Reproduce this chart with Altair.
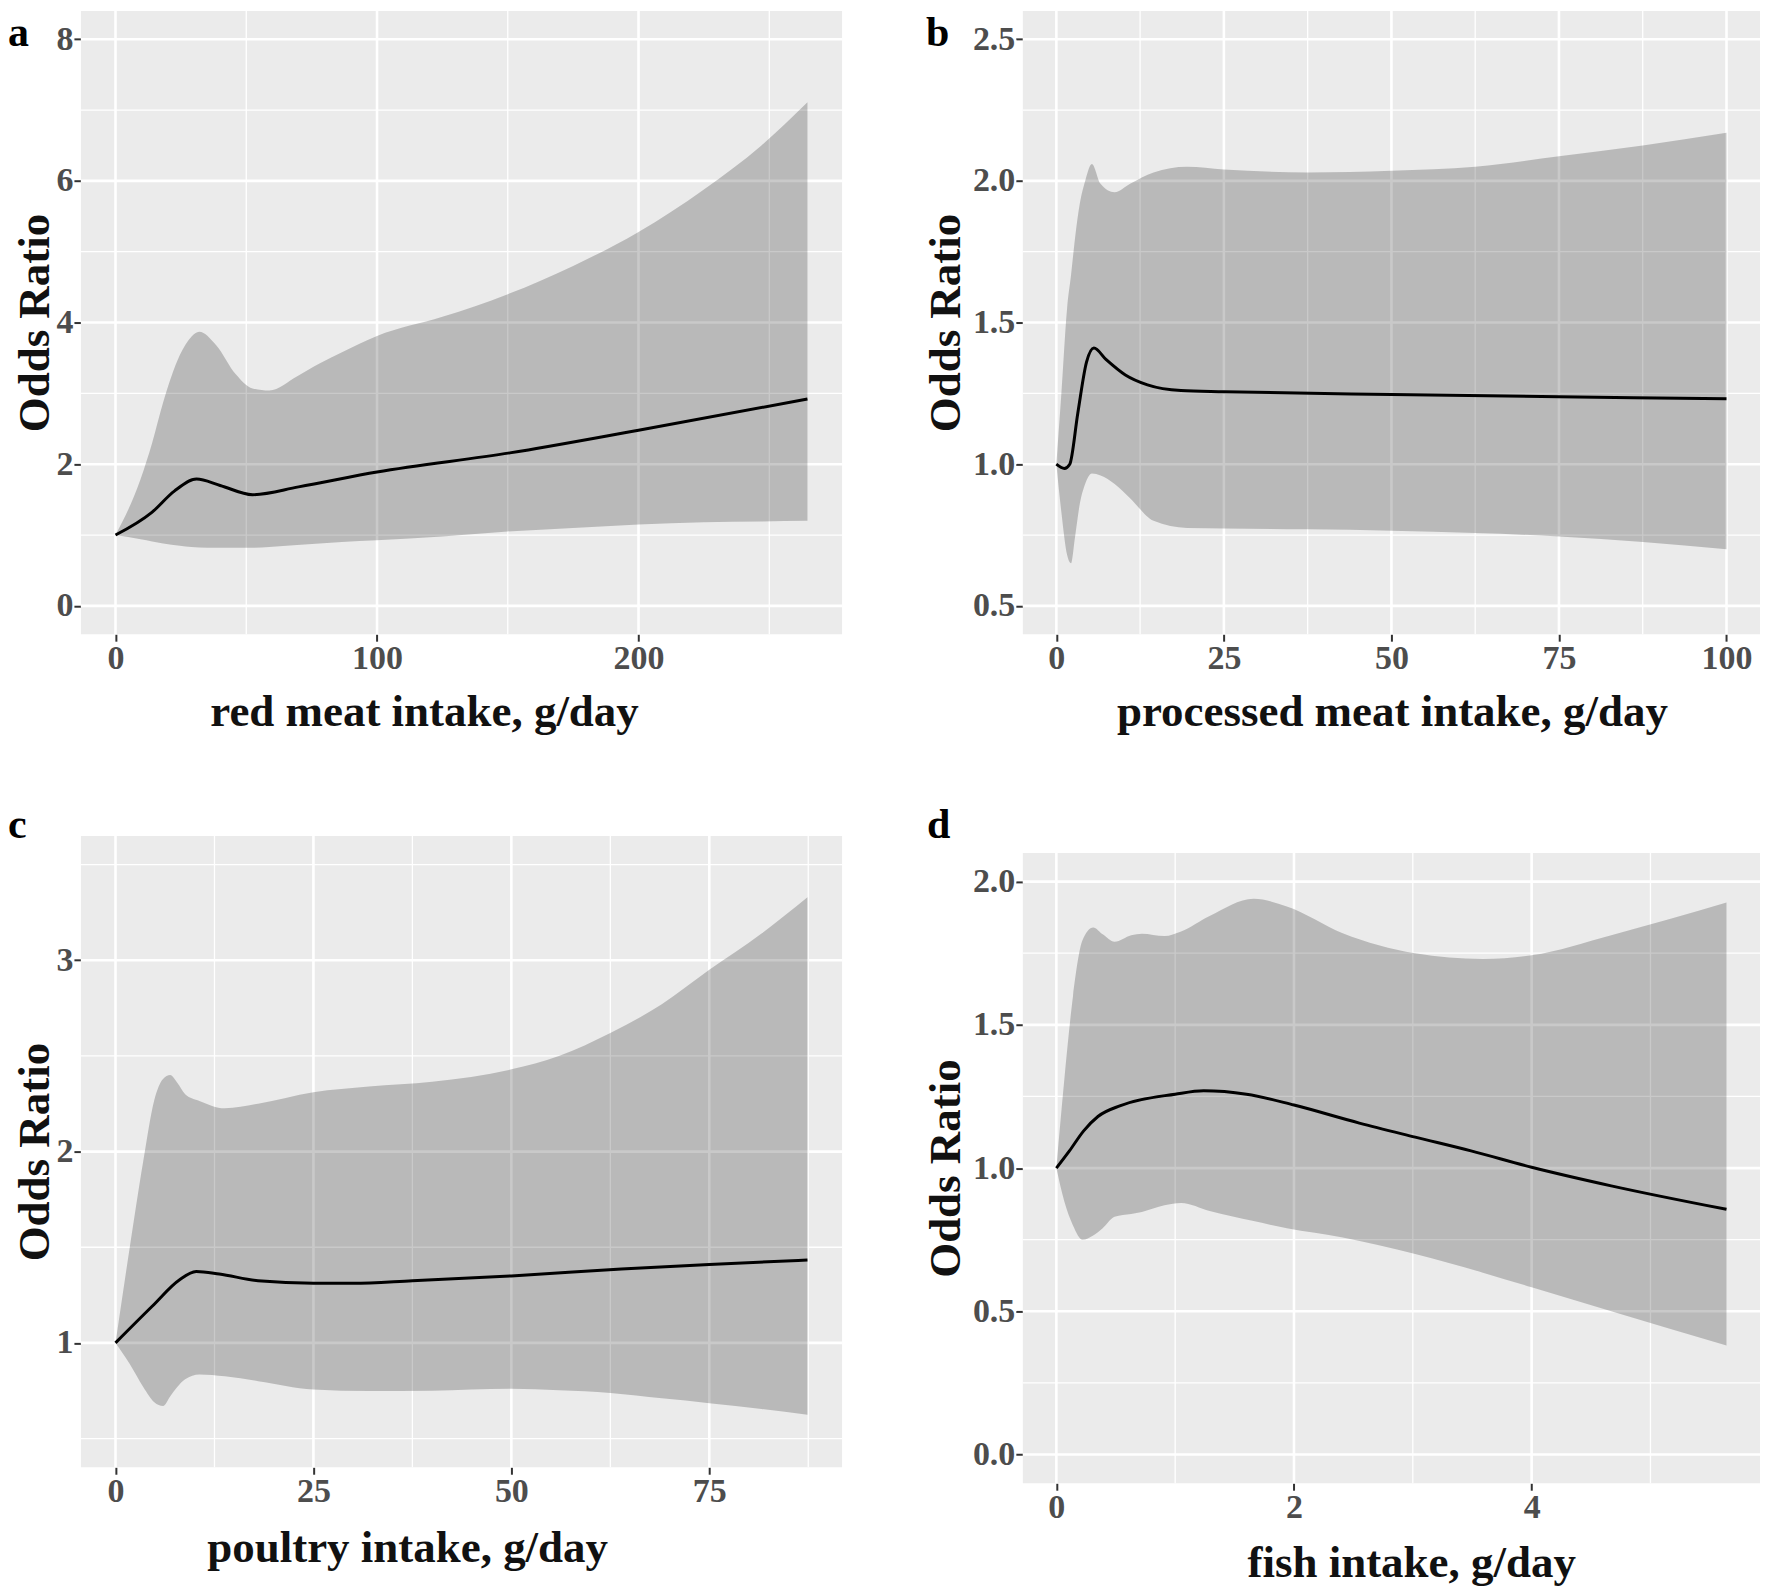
import altair as alt
import pandas as pd

FONT = "Liberation Serif"

# ---------------- panel a : red meat ----------------
A_LINE_X = [0, 13.9, 22.5, 31, 40, 52.4, 70, 100, 150.8, 200, 264.6]
A_LINE_Y = [1.0, 1.32, 1.62, 1.79, 1.70, 1.57, 1.68, 1.89, 2.16, 2.48, 2.92]
A_BAND_X = [0, 9.6, 14, 18.2, 24.6, 29, 32, 38.5, 46, 52.4, 58.8, 69.5, 78, 86.6, 100, 125, 150, 175, 200, 225, 247, 264.6]
A_BAND_HI = [1.0, 1.79, 2.3, 2.87, 3.54, 3.8, 3.87, 3.68, 3.27, 3.07, 3.04, 3.24, 3.42, 3.58, 3.81, 4.08, 4.40, 4.80, 5.28, 5.88, 6.50, 7.11]
A_BAND_LO = [1.0, 0.94, 0.91, 0.88, 0.85, 0.83, 0.825, 0.82, 0.82, 0.82, 0.83, 0.86, 0.88, 0.90, 0.925, 0.98, 1.05, 1.10, 1.15, 1.18, 1.19, 1.20]

# ---------------- panel b : processed meat ----------------
B_LINE_X = [0, 1.2, 2.0, 3.2, 4.5, 5.6, 7.4, 10.3, 13.6, 18.6, 25, 50, 75, 100]
B_LINE_Y = [1.0, 0.985, 1.0, 1.18, 1.36, 1.41, 1.37, 1.315, 1.28, 1.26, 1.256, 1.246, 1.238, 1.231]
B_BAND_X = [0, 0.75, 1.6, 2.2, 2.8, 3.5, 4.3, 5.3, 6.6, 8.7, 11, 14.5, 19.5, 25, 37.5, 50, 62.5, 75, 87.5, 100]
B_BAND_HI = [1.0, 1.25, 1.55, 1.67, 1.80, 1.92, 2.0, 2.06, 1.99, 1.96, 1.99, 2.03, 2.05, 2.04, 2.03, 2.036, 2.05, 2.087, 2.125, 2.17]
B_BAND_LO = [1.0, 0.83, 0.68, 0.65, 0.745, 0.86, 0.93, 0.967, 0.96, 0.93, 0.88, 0.80, 0.775, 0.773, 0.77, 0.765, 0.757, 0.745, 0.725, 0.70]

# ---------------- panel c : poultry ----------------
C_LINE_X = [0, 4.6, 8.1, 10.2, 13.1, 18, 25, 30, 37.5, 50, 63.9, 75, 87.4]
C_LINE_Y = [1.0, 1.19, 1.33, 1.373, 1.36, 1.325, 1.312, 1.312, 1.325, 1.35, 1.386, 1.41, 1.433]
C_BAND_X = [0, 1.8, 3.5, 4.9, 6.0, 6.9, 7.8, 8.8, 10.6, 13.8, 18, 25, 32, 40, 50, 56, 62.5, 69, 75, 81.6, 87.4]
C_BAND_HI = [1.0, 1.50, 1.95, 2.27, 2.38, 2.40, 2.36, 2.30, 2.265, 2.226, 2.25, 2.31, 2.34, 2.365, 2.43, 2.50, 2.62, 2.77, 2.95, 3.14, 3.33]
C_BAND_LO = [1.0, 0.89, 0.77, 0.69, 0.67, 0.72, 0.77, 0.81, 0.835, 0.825, 0.80, 0.756, 0.748, 0.75, 0.76, 0.752, 0.738, 0.71, 0.685, 0.655, 0.625]

# ---------------- panel d : fish ----------------
D_LINE_X = [0, 0.11, 0.23, 0.35, 0.54, 1.0, 1.24, 1.6, 2.0, 2.55, 3.02, 3.49, 4.0, 4.67, 5.64]
D_LINE_Y = [1.0, 1.06, 1.13, 1.18, 1.218, 1.258, 1.27, 1.258, 1.22, 1.157, 1.108, 1.06, 1.003, 0.938, 0.856]
D_BAND_X = [0, 0.066, 0.14, 0.22, 0.31, 0.39, 0.49, 0.63, 0.72, 0.91, 1.05, 1.29, 1.66, 1.94, 2.41, 3.02, 3.59, 4.0, 4.67, 5.64]
D_BAND_HI = [1.0, 1.305, 1.60, 1.795, 1.84, 1.816, 1.79, 1.813, 1.818, 1.81, 1.826, 1.88, 1.94, 1.913, 1.82, 1.75, 1.73, 1.743, 1.813, 1.927]
D_BAND_LO = [1.0, 0.885, 0.80, 0.75, 0.765, 0.79, 0.83, 0.84, 0.847, 0.87, 0.878, 0.85, 0.815, 0.79, 0.758, 0.70, 0.635, 0.584, 0.50, 0.381]

# axis ticks / grid values
A_XMAJ, A_XMIN, A_YMAJ, A_YMIN = [0, 100, 200], [50, 150, 250], [0, 2, 4, 6, 8], [1, 3, 5, 7]
B_XMAJ, B_XMIN, B_YMAJ, B_YMIN = [0, 25, 50, 75, 100], [12.5, 37.5, 62.5, 87.5], [0.5, 1.0, 1.5, 2.0, 2.5], [0.75, 1.25, 1.75, 2.25]
C_XMAJ, C_XMIN, C_YMAJ, C_YMIN = [0, 25, 50, 75], [12.5, 37.5, 62.5, 87.5], [1, 2, 3], [0.5, 1.5, 2.5, 3.5]
D_XMAJ, D_XMIN, D_YMAJ, D_YMIN = [0, 2, 4], [1, 3, 5], [0.0, 0.5, 1.0, 1.5, 2.0], [0.25, 0.75, 1.25, 1.75]

A_XDOM, A_YDOM = [-13.23, 277.83], [-0.4, 8.4]
B_XDOM, B_YDOM = [-5, 105], [0.4, 2.6]
C_XDOM, C_YDOM = [-4.37, 91.77], [0.35, 3.65]
D_XDOM, D_YDOM = [-0.282, 5.922], [-0.1, 2.1]

X_TITLES = ["red meat intake, g/day", "processed meat intake, g/day",
            "poultry intake, g/day", "fish intake, g/day"]
Y_TITLE = "Odds Ratio"
LETTERS = ["a", "b", "c", "d"]

PANEL_BG = "#EBEBEB"


def panel(lx, ly, bx, blo, bhi, xdom, ydom, xmaj, xmin, ymaj, ymin, xtitle, yfmt,
          w, h, top, title_x, ytitle_x, letter, let_x, let_y, xtitle_y=91):
    xs = alt.Scale(domain=xdom, nice=False, zero=False)
    ys = alt.Scale(domain=ydom, nice=False, zero=False, range=[h, top])

    common = dict(domain=False, grid=False, ticks=True, tickSize=7, tickWidth=2,
                  tickColor="#333333", labelFont=FONT, labelFontSize=34,
                  labelFontWeight="bold", labelColor="#4D4D4D", titleFont=FONT,
                  titleFontSize=45, titleFontWeight="bold", titleColor="#111111",
                  labelOverlap=False, titleBaseline="alphabetic")
    xaxis = alt.Axis(values=xmaj, title=xtitle, labelPadding=0, labelFlush=False,
                     titleX=title_x, titleY=xtitle_y, titleAlign="center", **common)
    yaxis = alt.Axis(values=ymaj, title=Y_TITLE, labelPadding=1, format=yfmt,
                     titleX=ytitle_x, titleY=(h + top) / 2, titleAngle=270,
                     titleAlign="center", **common)

    def X(field):
        return alt.X(field, scale=xs, axis=xaxis)

    def Y(field):
        return alt.Y(field, scale=ys, axis=yaxis)

    ext = pd.DataFrame({"x0": [xdom[0]], "x1": [xdom[1]], "y0": [ydom[0]], "y1": [ydom[1]]})
    bg = alt.Chart(ext).mark_rect(color=PANEL_BG).encode(
        x=X("x0:Q"), x2="x1:Q", y=Y("y0:Q"), y2="y1:Q")

    def vrules(vals, sw):
        df = pd.DataFrame({"v": vals, "y0": ydom[0], "y1": ydom[1]})
        return alt.Chart(df).mark_rule(color="white", strokeWidth=sw).encode(
            x=X("v:Q"), y=Y("y0:Q"), y2="y1:Q")

    def hrules(vals, sw):
        df = pd.DataFrame({"v": vals, "x0": xdom[0], "x1": xdom[1]})
        return alt.Chart(df).mark_rule(color="white", strokeWidth=sw).encode(
            y=Y("v:Q"), x=X("x0:Q"), x2="x1:Q")

    band_df = pd.DataFrame({"x": bx, "lo": blo, "hi": bhi})
    line_df = pd.DataFrame({"x": lx, "y": ly})

    band = alt.Chart(band_df).mark_area(color="#000000", opacity=0.21,
                                        interpolate="monotone").encode(
        x=X("x:Q"), y=Y("lo:Q"), y2="hi:Q")
    line = alt.Chart(line_df).mark_line(color="#000000", strokeWidth=3.0,
                                        interpolate="monotone").encode(
        x=X("x:Q"), y=Y("y:Q"))
    lab = alt.Chart(pd.DataFrame({"t": [letter]})).mark_text(
        font=FONT, fontSize=42, fontWeight="bold", align="left",
        baseline="alphabetic", color="#000000").encode(
        x=alt.value(let_x), y=alt.value(let_y), text="t:N")

    return alt.layer(bg, vrules(xmin, 1.3), hrules(ymin, 1.3),
                     vrules(xmaj, 2.6), hrules(ymaj, 2.6), band, line, lab,
                     view=alt.ViewBackground(stroke="transparent", strokeWidth=0)
                     ).properties(width=w, height=h)


pa = panel(A_LINE_X, A_LINE_Y, A_BAND_X, A_BAND_LO, A_BAND_HI, A_XDOM, A_YDOM,
           A_XMAJ, A_XMIN, A_YMAJ, A_YMIN, X_TITLES[0], "d",
           762, 624, 0, 343.5, -32.5, LETTERS[0], -73, 35)
pb = panel(B_LINE_X, B_LINE_Y, B_BAND_X, B_BAND_LO, B_BAND_HI, B_XDOM, B_YDOM,
           B_XMAJ, B_XMIN, B_YMAJ, B_YMIN, X_TITLES[1], ".1f",
           738, 624, 0, 369.5, -63, LETTERS[1], -97, 35)
pc = panel(C_LINE_X, C_LINE_Y, C_BAND_X, C_BAND_LO, C_BAND_HI, C_XDOM, C_YDOM,
           C_XMAJ, C_XMIN, C_YMAJ, C_YMIN, X_TITLES[2], "d",
           762, 632, 0, 326.6, -32.5, LETTERS[2], -73, 2, xtitle_y=94)
pd_ = panel(D_LINE_X, D_LINE_Y, D_BAND_X, D_BAND_LO, D_BAND_HI, D_XDOM, D_YDOM,
            D_XMAJ, D_XMIN, D_YMAJ, D_YMIN, X_TITLES[3], ".1f",
            738, 648, 17, 388.8, -63, LETTERS[3], -96, 2, xtitle_y=93)

chart = alt.concat(pa, pb, pc, pd_, columns=2,
                   spacing=alt.RowColnumber(row=202, column=181),
                   bounds="flush", padding=0).configure_view(
    strokeWidth=0, stroke="transparent").configure(background="white")

chart.save("out.html", embed_options={"renderer": "svg", "actions": False})
